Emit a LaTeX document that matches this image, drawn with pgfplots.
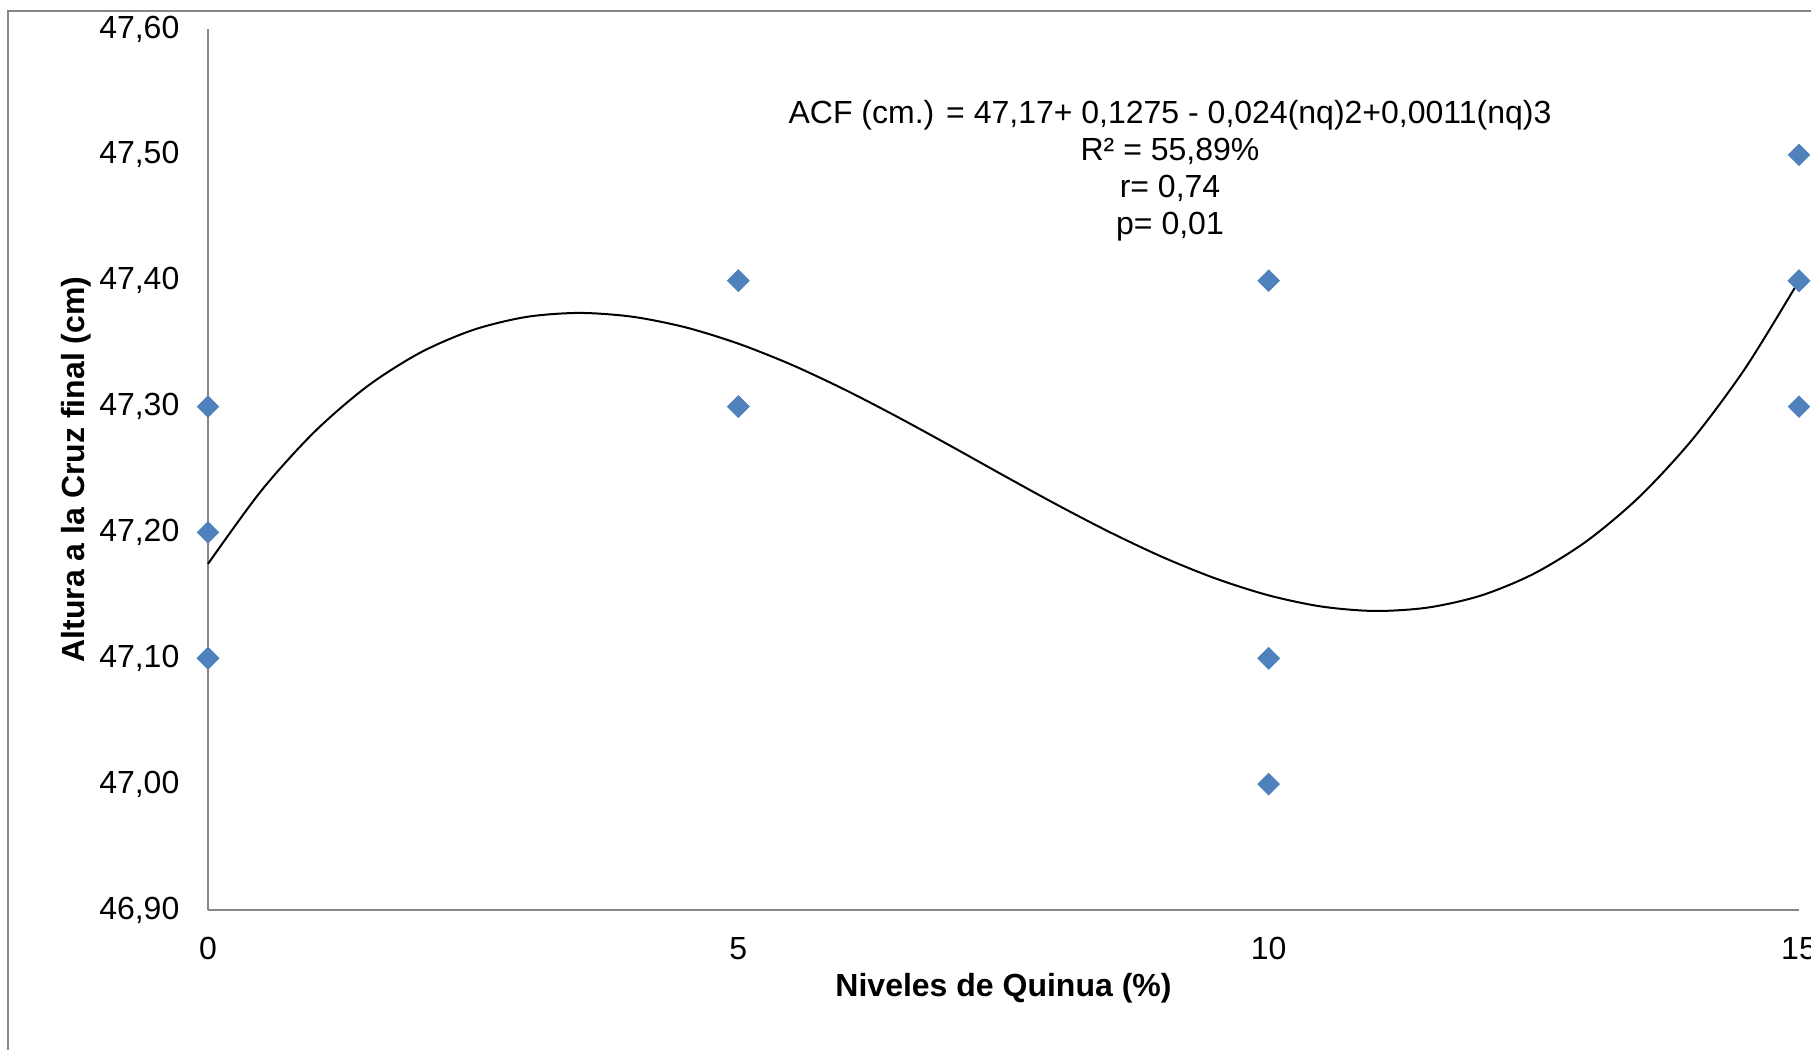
\documentclass[border=0pt]{standalone}
\usepackage{fontspec}
\setmainfont{Liberation Sans}
\usepackage{pgfplots}
\pgfplotsset{compat=1.18}
\definecolor{axgray}{RGB}{134,134,134}
\definecolor{xlblue}{RGB}{79,129,189}
\begin{document}
\fontsize{8}{9.25}\selectfont
\begin{tikzpicture}
\path[use as bounding box] (0,0) rectangle (452.75pt,262.5pt);
\draw[axgray, line width=0.55pt] (2pt,-1pt) -- (2pt,259.75pt) -- (454pt,259.75pt);
\begin{axis}[
  at={(52pt,35pt)}, anchor=south west,
  scale only axis, width=397.75pt, height=220.25pt,
  xmin=0, xmax=15, ymin=46.9, ymax=47.6,
  xtick={0,5,10,15}, ytick={46.9,47.0,47.1,47.2,47.3,47.4,47.5,47.6},
  axis x line=bottom, axis y line=left,
  axis line style={-, axgray, line width=0.55pt},
  major tick length=0pt,
  tick label style={font=\fontsize{8}{9.25}\selectfont, black},
  /pgf/number format/assume math mode=true,
  yticklabel style={/pgf/number format/fixed, /pgf/number format/fixed zerofill, /pgf/number format/precision=2, /pgf/number format/use comma, xshift=-4.3pt},
  xticklabel style={/pgf/number format/fixed, /pgf/number format/precision=0, yshift=-4pt},
  xlabel={\bfseries Niveles de Quinua (\%)},
  ylabel={\bfseries Altura a la Cruz final (cm)},
  label style={font=\fontsize{8}{9.25}\selectfont\bfseries},
  xlabel style={yshift=2.2pt},
  ylabel style={yshift=-3.6pt},
  clip=false,
]
\addplot[only marks, mark=square*, mark size=1.8pt, mark options={rotate=45}, color=xlblue] coordinates {
(0,47.3) (0,47.2) (0,47.1) (0,47.1)
(5,47.4) (5,47.3) (5,47.4) (5,47.3)
(10,47.4) (10,47.1) (10,47.1) (10,47.0)
(15,47.5) (15,47.4) (15,47.4) (15,47.3)
};
\addplot[black, line width=0.5pt, smooth, mark=none] coordinates {
(0,47.1750) (0.5,47.2329) (1,47.2796) (1.5,47.3160) (2,47.3428) (2.5,47.3609)
(3,47.3712) (3.5,47.3744) (4,47.3714) (4.5,47.3630) (5,47.3500) (5.5,47.3333)
(6,47.3136) (6.5,47.2918) (7,47.2688) (7.5,47.2453) (8,47.2222) (8.5,47.2003)
(9,47.1804) (9.5,47.1634) (10,47.1500) (10.5,47.1411) (11,47.1376) (11.5,47.1403)
(12,47.1498) (12.5,47.1672) (13,47.1932) (13.5,47.2287) (14,47.2744) (14.5,47.3313)
(15,47.4000)
};
\node[align=center, font=\fontsize{8}{9.25}\selectfont, inner sep=0pt] at (axis cs:9.07,47.487)
  {ACF (cm.) = 47,17+ 0,1275 - 0,024(nq)2+0,0011(nq)3\\R² = 55,89\%\\r= 0,74\\p= 0,01};
\end{axis}
\end{tikzpicture}
\end{document}
